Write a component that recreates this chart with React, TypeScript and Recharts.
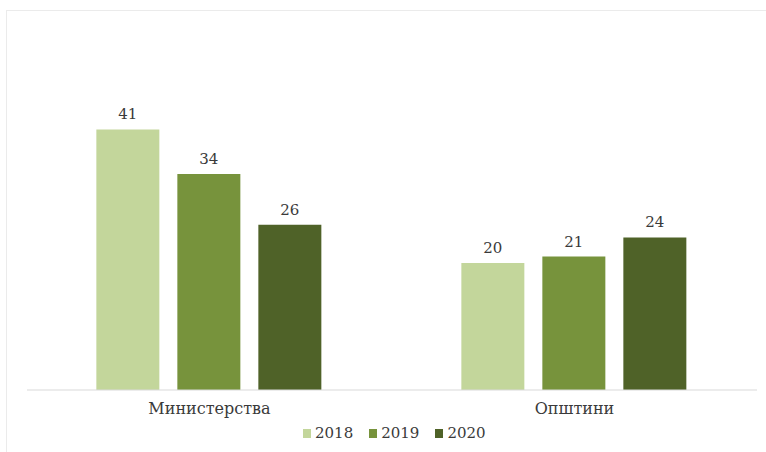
import { BarChart, Bar, XAxis, YAxis, LabelList } from 'recharts';

const categories = ['Министерства', 'Општини'];
const values2018 = [41, 20];
const values2019 = [34, 21];
const values2020 = [26, 24];

const seriesNames = ['2018', '2019', '2020'];
const seriesColors = ['#c3d69b', '#77933c', '#4f6228'];

const data = categories.map((name, i) => ({
    name,
    '2018': values2018[i],
    '2019': values2019[i],
    '2020': values2020[i],
}));

const FONT = '"DejaVu Serif", serif';
const TEXT = '#3a3a3a';

const App = () => {
    return (
        <div
            style={{
                position: 'absolute',
                left: 0,
                top: 0,
                width: 766,
                height: 452,
                background: 'white',
                overflow: 'hidden',
            }}>
            <div
                style={{
                    position: 'absolute',
                    left: 6,
                    top: 10,
                    right: 0,
                    bottom: -10,
                    borderLeft: '1px solid #ebebeb',
                    borderTop: '1px solid #ebebeb',
                }}
            />
            <BarChart
                width={766}
                height={452}
                data={data}
                margin={{ top: 104, right: 9, bottom: 32, left: 27 }}
                barCategoryGap="19%"
                barGap={18}>
                <XAxis
                    dataKey="name"
                    height={30}
                    axisLine={{ stroke: '#d9d9d9' }}
                    tickLine={false}
                    tickMargin={7}
                    tick={{ fontFamily: FONT, fontSize: 16, fill: TEXT }}
                />
                <YAxis hide domain={[0, 45]} />
                {seriesNames.map((s, i) => (
                    <Bar key={s} dataKey={s} fill={seriesColors[i]} isAnimationActive={false}>
                        <LabelList
                            dataKey={s}
                            position="top"
                            offset={10}
                            style={{ fontFamily: FONT, fontSize: 15, fill: TEXT }}
                        />
                    </Bar>
                ))}
            </BarChart>
            <div
                style={{
                    position: 'absolute',
                    left: 303,
                    top: 424,
                    display: 'flex',
                    alignItems: 'center',
                    fontFamily: FONT,
                    fontSize: 15,
                    color: TEXT,
                }}>
                {seriesNames.map((s, i) => (
                    <div key={s} style={{ display: 'flex', alignItems: 'center', marginRight: 16 }}>
                        <span
                            style={{
                                width: 8,
                                height: 9,
                                background: seriesColors[i],
                                display: 'inline-block',
                                marginRight: 4,
                            }}
                        />
                        <span>{s}</span>
                    </div>
                ))}
            </div>
        </div>
    );
};

export default App;
